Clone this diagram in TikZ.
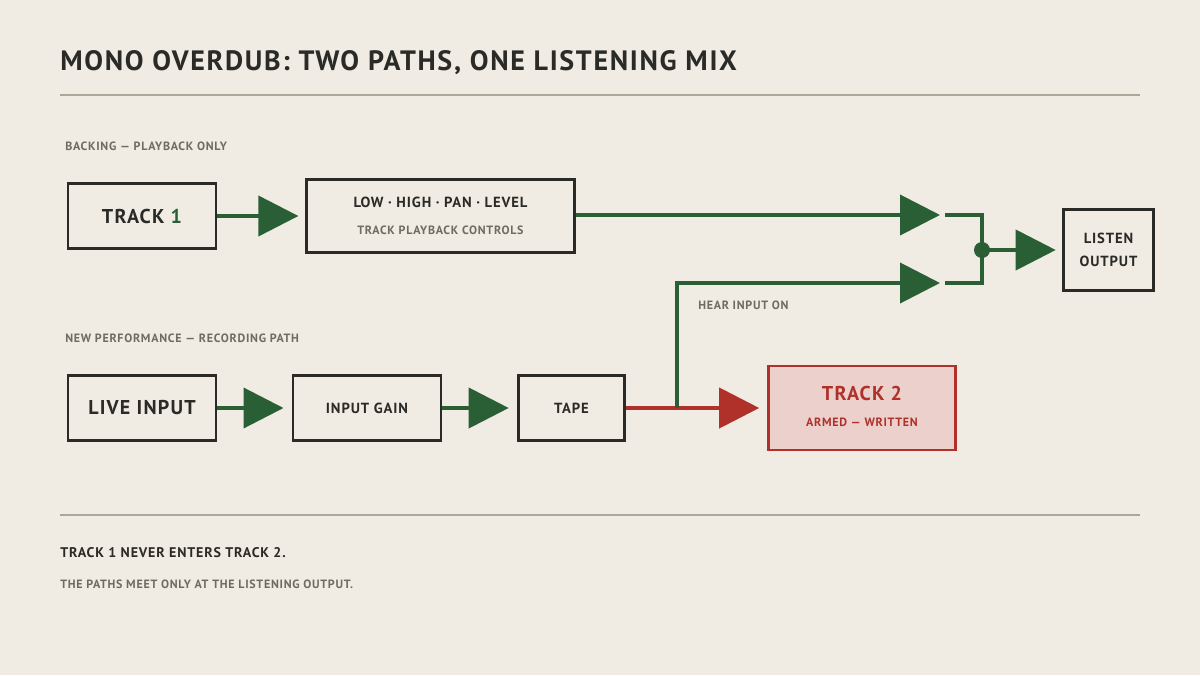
\documentclass[tikz,border=0pt]{standalone}
\usepackage{fontspec}
\setmainfont{PT Sans}
\usetikzlibrary{positioning, arrows.meta}
\definecolor{paper}{HTML}{F0EBE3}
\definecolor{ink}{HTML}{2A2A26}
\definecolor{muted}{HTML}{6E6B60}
\definecolor{rulec}{HTML}{ABA799}
\definecolor{leaf}{HTML}{2A5E34}
\definecolor{brick}{HTML}{B0302A}
\definecolor{blush}{HTML}{ECD0CC}
\newcommand{\spaced}[1]{{\addfontfeatures{LetterSpace=6}#1}}
\tikzset{
	x=0.75pt, y=-0.75pt,
	every node/.style={inner sep=0, font=\bfseries},
	unit/.style={
		rectangle,
		draw=ink,
		line width=2.2pt,
		text=ink,
		align=center
	},
	caption/.style={anchor=base west, muted, font=\bfseries\fontsize{9}{10}\selectfont},
	signal/.style={leaf, line width=3pt, -{Triangle[length=30pt, width=30pt]}},
	wire/.style={leaf, line width=3pt},
	record/.style={brick, line width=3pt, -{Triangle[length=30pt, width=30pt]}},
	divider/.style={rulec, line width=1.1pt},
}
\begin{document}
\begin{tikzpicture}
	\fill[paper] (0,0) rectangle (1200,675);
	\useasboundingbox (0,0) rectangle (1200,675);
	
	\node (title)[anchor=base west, ink, font=\bfseries\fontsize{21}{24}\selectfont] at (60,70) {\spaced{MONO OVERDUB: TWO PATHS, ONE LISTENING MIX}};
	\draw[divider] (60,95) -- (1140,95);
	
	% playback path
	\node (backing)[caption] at (65,150) {\spaced{BACKING — PLAYBACK ONLY}};
	\node (track1)[unit, minimum width=111pt, minimum height=49pt, font=\bfseries\fontsize{15}{18}\selectfont] at (142,216) {\spaced{TRACK {\color{leaf}1}}};
	\node (controls)[unit, minimum width=201pt, minimum height=55pt] at (440.5,216) {};
	\node (ctrltop)[ink, font=\bfseries\fontsize{11}{13}\selectfont] at (440.5,202) {\spaced{LOW · HIGH · PAN · LEVEL}};
	\node (ctrlsub)[muted, font=\bfseries\fontsize{9}{10}\selectfont] at (440.5,230) {\spaced{TRACK PLAYBACK CONTROLS}};
	\draw[signal, shorten >=5pt] (track1) -- (controls);
	
	\node (listen)[unit, minimum width=67pt, minimum height=61pt, font=\bfseries\fontsize{11}{17}\selectfont] at (1108.5,250) {\spaced{LISTEN}\\\spaced{OUTPUT}};
	\coordinate (tipA) at (940,215);
	\coordinate (tipB) at (940,283);
	\coordinate (join) at (982,250);
	\draw[signal] (controls.east |- tipA) -- (tipA);
	\draw[wire] (945,215) -| (join) |- (945,283);
	\fill[leaf] (join) circle (6pt);
	\draw[signal, shorten >=5pt] (join) -- (listen);
	
	% recording path
	\node (newperf)[caption] at (65,342) {\spaced{NEW PERFORMANCE — RECORDING PATH}};
	\node (live)[unit, minimum width=111pt, minimum height=49pt, font=\bfseries\fontsize{15}{18}\selectfont] at (142,408) {\spaced{LIVE INPUT}};
	\node (gain)[unit, minimum width=111pt, minimum height=49pt, font=\bfseries\fontsize{11}{13}\selectfont] at (367,408) {\spaced{INPUT GAIN}};
	\node (tape)[unit, minimum width=80pt, minimum height=49pt, font=\bfseries\fontsize{11}{13}\selectfont] at (571.5,408) {\spaced{TAPE}};
	\node (track2)[unit, draw=brick, fill=blush, minimum width=140pt, minimum height=63pt] at (862,408) {};
	\node (t2top)[brick, font=\bfseries\fontsize{15}{18}\selectfont] at (862,393) {\spaced{TRACK 2}};
	\node (t2sub)[brick, font=\bfseries\fontsize{9}{10}\selectfont] at (862,422) {\spaced{ARMED — WRITTEN}};
	\draw[signal, shorten >=6pt] (live) -- (gain);
	\draw[signal, shorten >=6pt] (gain) -- (tape);
	\draw[record, shorten >=6pt] (tape) -- (track2);
	\coordinate (tap) at (677,408);
	\draw[signal] (tap) |- (tipB);
	\node (hear)[caption] at (698,309) {\spaced{HEAR INPUT ON}};
	
	% notes
	\draw[divider] (60,515) -- (1140,515);
	\node (note1)[anchor=base west, ink, font=\bfseries\fontsize{10.5}{12}\selectfont] at (60,557) {\spaced{TRACK 1 NEVER ENTERS TRACK 2.}};
	\node (note2)[caption] at (60,588) {\spaced{THE PATHS MEET ONLY AT THE LISTENING OUTPUT.}};
\end{tikzpicture}
\end{document}
